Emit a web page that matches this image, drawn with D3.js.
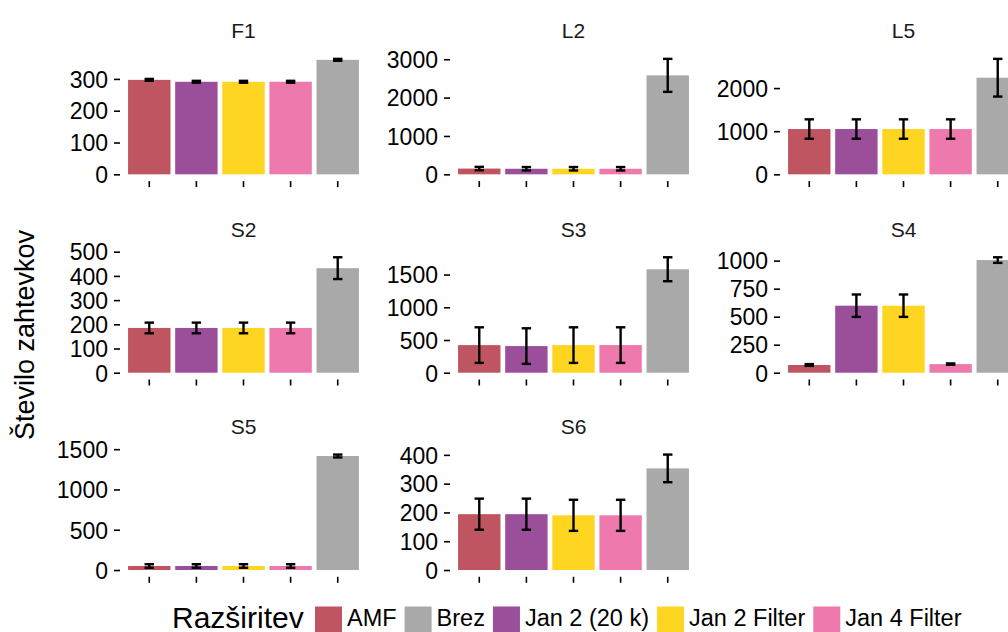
<!DOCTYPE html>
<html><head><meta charset="utf-8">
<script src="https://cdn.jsdelivr.net/npm/d3@7"></script>
<style>body{margin:0;background:#fff}svg{display:block;font-family:"Liberation Sans",Arial,Helvetica,sans-serif}</style>
</head><body><svg id="c" width="1008" height="632"></svg>
<script>
// ---- data ----
const panelNames = ["F1","L2","L5","S2","S3","S4","S5","S6"];
const groups = ["AMF","Jan 2 (20 k)","Jan 2 Filter","Jan 4 Filter","Brez"];
const legendOrder = ["AMF","Brez","Jan 2 (20 k)","Jan 2 Filter","Jan 4 Filter"];
const groupColors = ["#BF5560","#9B4F9B","#FED521","#EE7AAD","#A9A9A9"];

const meanF1 = [297, 291, 291, 291, 360];
const errF1  = [3, 3, 3, 3, 3];
const meanL2 = [150, 145, 145, 145, 2580];
const errL2  = [45, 45, 45, 45, 430];
const meanL5 = [1050, 1050, 1050, 1050, 2240];
const errL5  = [225, 225, 225, 225, 437];
const meanS2 = [185, 185, 185, 185, 432];
const errS2  = [22, 22, 22, 22, 45];
const meanS3 = [422, 407, 422, 422, 1581];
const errS3  = [272, 272, 272, 272, 183];
const meanS4 = [69, 598, 598, 77, 1005];
const errS4  = [8, 100, 100, 6, 25];
const meanS5 = [50, 50, 50, 50, 1415];
const errS5  = [22, 22, 22, 22, 18];
const meanS6 = [194, 194, 190, 190, 353];
const errS6  = [54, 54, 54, 54, 48];

const ticksF1 = [0, 100, 200, 300];
const ticksL2 = [0, 1000, 2000, 3000];
const ticksL5 = [0, 1000, 2000];
const ticksS2 = [0, 100, 200, 300, 400, 500];
const ticksS3 = [0, 500, 1000, 1500];
const ticksS4 = [0, 250, 500, 750, 1000];
const ticksS5 = [0, 500, 1000, 1500];
const ticksS6 = [0, 100, 200, 300, 400];

const yTitle = "Število zahtevkov";
const legendTitle = "Razširitev";

const panelMeans = [meanF1, meanL2, meanL5, meanS2, meanS3, meanS4, meanS5, meanS6];
const panelErrs  = [errF1, errL2, errL5, errS2, errS3, errS4, errS5, errS6];
const panelTicks = [ticksF1, ticksL2, ticksL5, ticksS2, ticksS3, ticksS4, ticksS5, ticksS6];

// ---- layout ----
const svg = d3.select("#c");
const colLeft = [121, 451, 781];
const rowBottom = [180.1, 378.5, 575.8];
const pw = 245, ph = 127;
const color = d3.scaleOrdinal().domain(groups).range(groupColors);

panelNames.forEach((name, i) => {
  const col = i % 3, row = Math.floor(i / 3);
  const left = colLeft[col], bottom = rowBottom[row];
  const means = panelMeans[i], errs = panelErrs[i];
  const data = groups.map((g, k) => ({g, m: means[k], e: errs[k]}));
  const maxV = d3.max(data, d => d.m + d.e);
  const x = d3.scaleBand().domain(groups).range([left, left + pw]).paddingInner(0.1).paddingOuter(0.15);
  const y = d3.scaleLinear().domain([-0.05 * maxV, 1.05 * maxV]).range([bottom, bottom - ph]);
  const g = svg.append("g");

  g.selectAll("rect.bar").data(data).join("rect").attr("class","bar")
    .attr("x", d => x(d.g)).attr("width", x.bandwidth())
    .attr("y", d => y(d.m)).attr("height", d => y(0) - y(d.m))
    .attr("fill", d => color(d.g));

  const cw = x.step() * 0.1;
  const eb = g.selectAll("g.eb").data(data).join("g").attr("class","eb")
    .attr("stroke", "#000").attr("stroke-width", 2.4).attr("fill","none");
  eb.append("line").attr("x1", d => x(d.g) + x.bandwidth()/2).attr("x2", d => x(d.g) + x.bandwidth()/2)
    .attr("y1", d => y(d.m - d.e)).attr("y2", d => y(d.m + d.e));
  eb.append("line").attr("x1", d => x(d.g) + x.bandwidth()/2 - cw).attr("x2", d => x(d.g) + x.bandwidth()/2 + cw)
    .attr("y1", d => y(d.m + d.e)).attr("y2", d => y(d.m + d.e));
  eb.append("line").attr("x1", d => x(d.g) + x.bandwidth()/2 - cw).attr("x2", d => x(d.g) + x.bandwidth()/2 + cw)
    .attr("y1", d => y(d.m - d.e)).attr("y2", d => y(d.m - d.e));

  const ya = g.append("g").attr("transform", `translate(${left - 1},0)`)
    .call(d3.axisLeft(y).tickValues(panelTicks[i]).tickSize(6).tickPadding(6).tickFormat(d3.format("d")));
  ya.select(".domain").remove();
  ya.selectAll("line").attr("stroke", "#000").attr("stroke-width", 1.6);
  ya.selectAll("text").attr("fill", "#000").style("font-size", "23px").attr("dy", "0.36em");

  const xa = g.append("g").attr("transform", `translate(0,${bottom + 1})`)
    .call(d3.axisBottom(x).tickSize(6).tickFormat(""));
  xa.select(".domain").remove();
  xa.selectAll("line").attr("stroke", "#000").attr("stroke-width", 1.6);

  g.append("text").attr("x", left + pw/2).attr("y", bottom - ph - 22).attr("dy", "0.35em")
    .attr("text-anchor", "middle").attr("fill", "#1a1a1a").style("font-size", "21px").text(name);
});

// y-axis title
svg.append("text").attr("transform", "translate(25,335) rotate(-90)").attr("text-anchor","middle")
  .attr("dy","0.35em").attr("fill","#000").style("font-size","27px").text(yTitle);

// legend
const lg = svg.append("g");
const ly = 617, ks = 27;
const lt = lg.append("text").attr("x", 172).attr("y", ly).attr("dy","0.35em").attr("fill","#000")
  .style("font-size","30px").text(legendTitle);
let cx = 315;
legendOrder.forEach(name => {
  lg.append("rect").attr("x", cx).attr("y", ly - ks/2 + 3).attr("width", ks).attr("height", ks).attr("fill", color(name));
  const t = lg.append("text").attr("x", cx + ks + 5).attr("y", ly).attr("dy","0.4em").attr("fill","#000")
    .style("font-size","23.5px").text(name);
  cx += ks + 5 + t.node().getComputedTextLength() + 8;
});
</script></body></html>
